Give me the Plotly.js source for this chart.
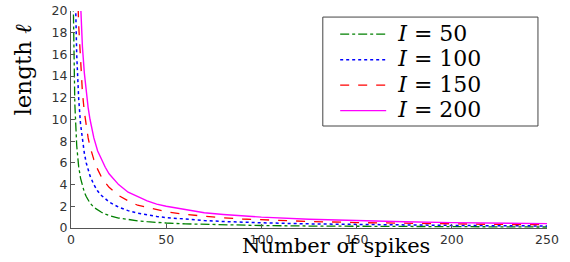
<!DOCTYPE html>
<html>
<head>
<meta charset="utf-8">
<script src="https://cdn.plot.ly/plotly-3.0.1.min.js"></script>
<style>html,body{margin:0;padding:0;background:#fff}#chart{width:570px;height:262px}</style>
</head>
<body>
<div id="chart"></div>
<script>
// Number of spikes (x) and length values
var spikes = [1,2,3,4,5,6,7,8,9,10,12,14,16,18,20,25,30,35,40,45,50,60,70,80,90,100,125,150,175,200,225,250];
var lenI50  = [23,11.5,7.6,5.7,4.6,3.8,3.3,2.9,2.55,2.3,1.9,1.65,1.45,1.28,1.15,0.92,0.77,0.66,0.58,0.51,0.46,0.38,0.33,0.29,0.26,0.23,0.18,0.15,0.13,0.12,0.10,0.09];
var lenI100 = [48,24,16,12,9.6,8.0,6.9,6.0,5.3,4.8,4.0,3.4,3.0,2.67,2.4,1.92,1.6,1.37,1.2,1.07,0.96,0.8,0.69,0.6,0.53,0.48,0.38,0.32,0.27,0.24,0.21,0.19];
var lenI150 = [75,37.5,25,18.8,15,12.5,10.7,9.4,8.3,7.5,6.3,5.4,4.7,4.2,3.75,3.0,2.5,2.1,1.9,1.7,1.5,1.25,1.07,0.94,0.83,0.75,0.6,0.5,0.43,0.38,0.33,0.3];
var lenI200 = [100,50,33,25,20,16.7,14.3,12.5,11.1,10,8.3,7.1,6.3,5.6,5.0,4.0,3.3,2.9,2.5,2.2,2.0,1.7,1.4,1.25,1.1,1.0,0.8,0.67,0.57,0.5,0.44,0.4];
var seriesLabels = ['50','100','150','200'];
var xTicks = [0,50,100,150,200,250];
var yTicks = [0,2,4,6,8,10,12,14,16,18,20];

var styles = [
  {color:'#008000', dash:'dashdot', width:1.3},
  {color:'#0000ff', dash:'dot', width:1.5},
  {color:'#ff0000', dash:'dash', width:1.3},
  {color:'#ff00ff', dash:'solid', width:1.4}
];
var ys = [lenI50, lenI100, lenI150, lenI200];
var traces = ys.map(function(y,i){
  return {x: spikes, y: y, type:'scatter', mode:'lines',
          name: '<span style="font-size:22px">&nbsp;<i>I</i>&nbsp;=&nbsp;' + seriesLabels[i] + '</span>',
          line: styles[i]};
});

var axisCommon = {
  showline:true, linecolor:'#555', linewidth:1, ticks:'inside', ticklen:4,
  tickcolor:'#555', showgrid:false, zeroline:false,
  tickfont:{family:'DejaVu Sans', size:12.5, color:'#333'}
};

var layout = {
  width:570, height:262,
  margin:{l:71, r:23, t:11, b:34},
  paper_bgcolor:'#fff', plot_bgcolor:'#fff',
  showlegend:true,
  xaxis: Object.assign({}, axisCommon, {range:[0,250], tickvals:xTicks, ticktext:xTicks.map(String)}),
  yaxis: Object.assign({}, axisCommon, {range:[0,20], tickvals:yTicks, ticktext:yTicks.map(String)}),
  legend: {x:0.555, y:0.975, xanchor:'left', yanchor:'top', bgcolor:'rgba(0,0,0,0)',
           borderwidth:0, itemwidth:46, font:{family:'DejaVu Serif', size:17.3, color:'#000'},
           tracegroupgap:0},
  shapes: [{type:'rect', xref:'paper', yref:'paper', x0:0.529, x1:0.981, y0:0.47, y1:0.972,
            line:{color:'#444', width:1}, fillcolor:'#fff', layer:'below'}],
  annotations: [
    {text:'Number of spikes', xref:'paper', yref:'paper', x:0.557, y:-0.083,
     xanchor:'center', yanchor:'middle', showarrow:false,
     font:{family:'DejaVu Serif', size:21, color:'#000'}},
    {text:'length <i>ℓ</i>', xref:'paper', yref:'paper', x:-0.1008, y:0.73,
     xanchor:'center', yanchor:'middle', showarrow:false, textangle:-90,
     font:{family:'DejaVu Serif', size:23, color:'#000'}}
  ]
};
Plotly.newPlot('chart', traces, layout, {displayModeBar:false, staticPlot:true});
</script>
</body>
</html>
